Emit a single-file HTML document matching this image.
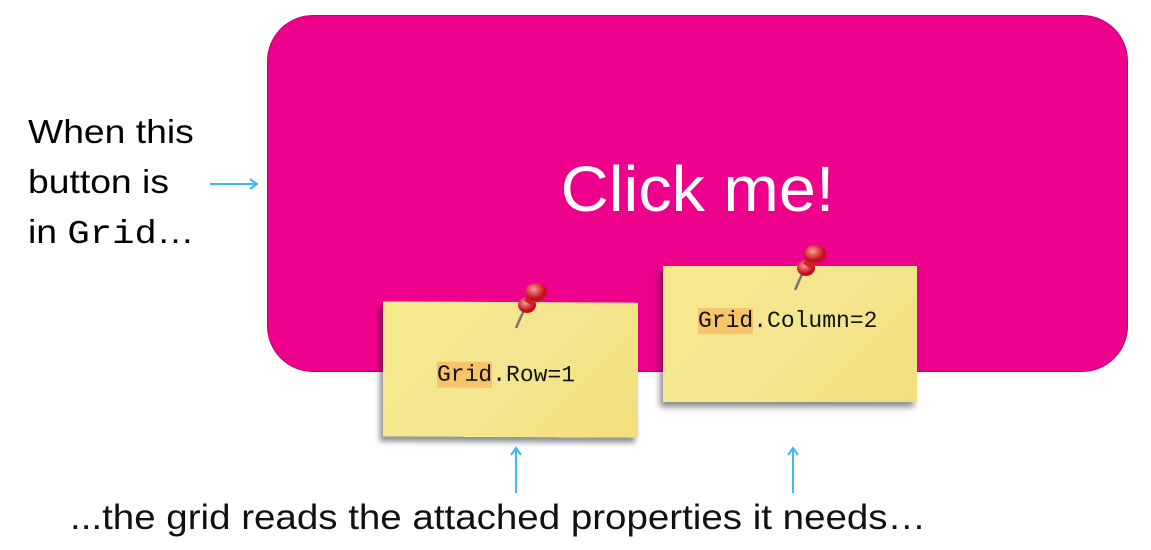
<!DOCTYPE html>
<html><head><style>
body{margin:0;width:1151px;height:550px;background:#fff;position:relative;overflow:hidden;font-family:"Liberation Sans",sans-serif}
.btn{position:absolute;left:267px;top:15px;width:861px;height:357px;background:#ec008c;border-radius:46px;box-sizing:border-box;border:1px solid #c0006f}
.click{position:absolute;left:267px;width:861px;top:152px;text-align:center;color:#fff;font-size:64px;transform:scaleX(1.04)}
.note{position:absolute;background:linear-gradient(135deg,#f6e98c,#f4e690 50%,#f2e07c);box-shadow:-3px 5px 6px rgba(0,0,0,.45);font-family:"Liberation Mono",monospace;font-size:23px;color:#111}
.hl{background:#f7c46a}
.t{position:absolute;font-size:33px;color:#000;line-height:50px;transform-origin:0 0}
.mono{font-family:"Liberation Mono",monospace}
</style></head><body>
<div class="btn"></div>
<div class="click">Click me!</div>
<div class="note" style="left:383px;top:302px;width:255px;height:135px;transform:skewY(0.3deg)"><div style="position:absolute;left:54px;top:60px"><span class="hl">Grid</span>.Row=1</div></div>
<div class="note" style="left:663px;top:266px;width:254px;height:136px"><div style="position:absolute;left:35px;top:42px"><span class="hl">Grid</span>.Column=2</div></div>
<svg width="1151" height="550" style="position:absolute;left:0;top:0">
<defs><radialGradient id="p" cx="40%" cy="35%"><stop offset="0" stop-color="#ff9a9a"/><stop offset="1" stop-color="#c2101a"/></radialGradient></defs>
<g><line x1="516" y1="328" x2="524" y2="310" stroke="#777" stroke-width="2.5"/><ellipse cx="527" cy="305" rx="9" ry="8" fill="url(#p)"/><rect x="526" y="294" width="10" height="10" fill="#d0202a" transform="rotate(30 531 299)"/><ellipse cx="536" cy="292" rx="11" ry="9" fill="url(#p)"/></g>
<g><line x1="795" y1="290" x2="803" y2="272" stroke="#777" stroke-width="2.5"/><ellipse cx="806" cy="268" rx="9" ry="8" fill="url(#p)"/><rect x="805" y="257" width="10" height="10" fill="#d0202a" transform="rotate(30 810 262)"/><ellipse cx="815" cy="254" rx="11" ry="9" fill="url(#p)"/></g>
<g stroke="#3bbcf0" stroke-width="2" fill="none">
<line x1="210" y1="184" x2="257" y2="184"/><polyline points="250,179 257,184 250,189"/>
<line x1="516" y1="493" x2="516" y2="448"/><polyline points="511,455 516,448 521,455"/>
<line x1="793" y1="493" x2="793" y2="448"/><polyline points="788,455 793,448 798,455"/>
</g></svg>
<div class="t" style="left:28px;top:107px;transform:scaleX(1.13)">When this<br>button is<br>in <span class="mono">Grid</span>…</div>
<div class="t" style="left:70px;top:493px;font-size:35px;color:#111;transform:scaleX(1.1)">...the grid reads the attached properties it needs…</div>
</body></html>
